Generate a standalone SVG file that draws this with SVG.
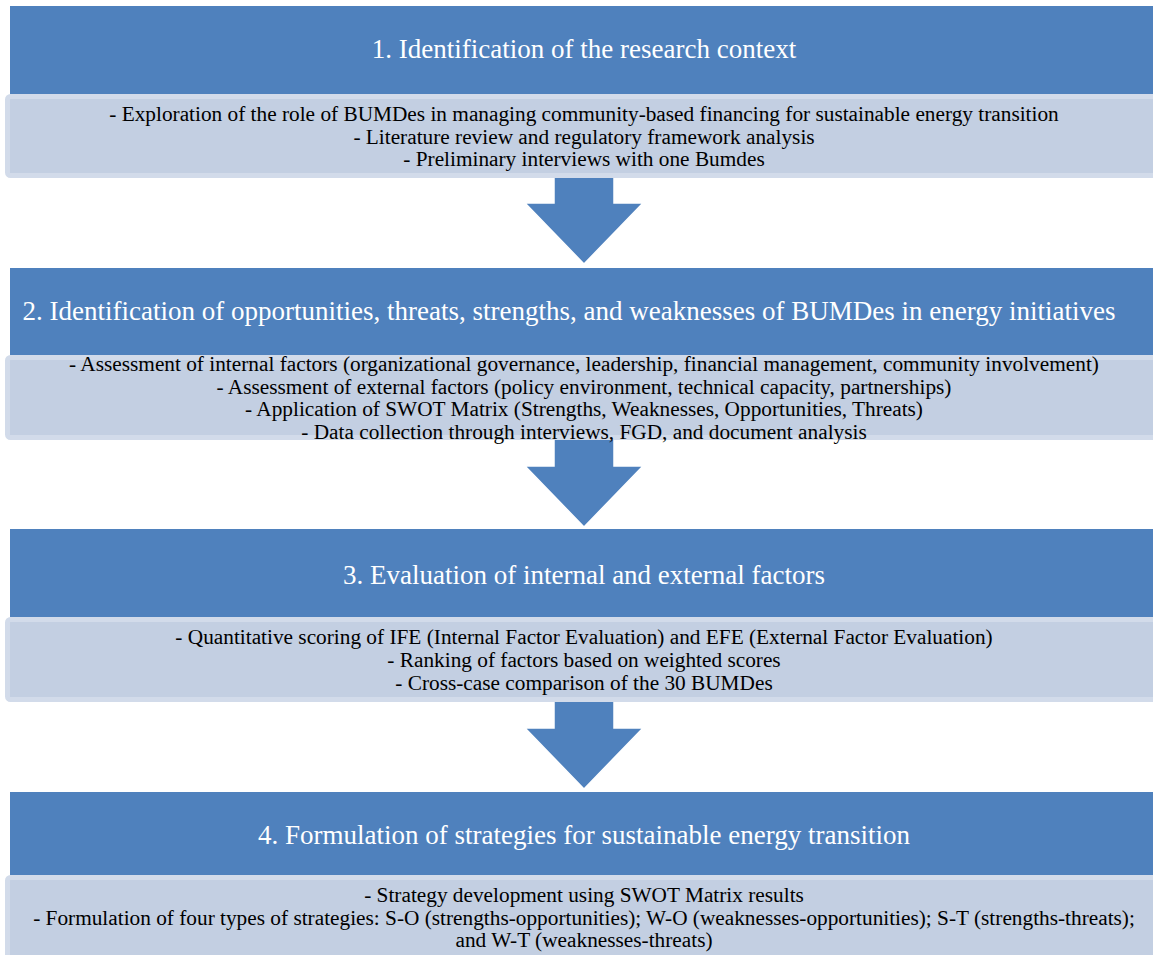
<svg xmlns="http://www.w3.org/2000/svg" width="1153" height="955" viewBox="0 0 1153 955">
<style>
.hdr{fill:#4f81bd}
.body{fill:#c3cfe2;stroke:#d2dbea;stroke-width:5}
.arr{fill:#4f81bd;stroke:#ffffff;stroke-width:1.5;stroke-linejoin:miter}
.ht{font-family:"Liberation Serif","Times New Roman",serif;font-size:27px;fill:#ffffff;text-anchor:middle}
.bt{font-family:"Liberation Serif","Times New Roman",serif;font-size:21.3px;fill:#000000;text-anchor:middle}
</style>
<rect width="1153" height="955" fill="#ffffff"/>
<g id="connectors">
<path class="arr" d="M554,176 L614,176 L614,203 L643,203 L584,264 L525,203 L554,203 Z"/>
<path class="arr" d="M554,438 L614,438 L614,466 L643,466 L584,527 L525,466 L554,466 Z"/>
<path class="arr" d="M554,700 L614,700 L614,728 L643,728 L584,789 L525,728 L554,728 Z"/>
</g>
<g id="step1">
<rect class="hdr" x="10" y="6" width="1143" height="88"/>
<text class="ht" x="584" y="58">1. Identification of the research context</text>
<rect class="body" x="7.5" y="96.5" width="1150" height="79" rx="3"/>
<text class="bt" x="584" y="121">- Exploration of the role of BUMDes in managing community-based financing for sustainable energy transition</text>
<text class="bt" x="584" y="143.5">- Literature review and regulatory framework analysis</text>
<text class="bt" x="584" y="166">- Preliminary interviews with one Bumdes</text>
</g>
<g id="step2">
<rect class="hdr" x="10" y="268" width="1143" height="88"/>
<text class="ht" x="569" y="320">2. Identification of opportunities, threats, strengths, and weaknesses of BUMDes in energy initiatives</text>
<rect class="body" x="7.5" y="357.5" width="1150" height="80" rx="3"/>
<text class="bt" x="584" y="371">- Assessment of internal factors (organizational governance, leadership, financial management, community involvement)</text>
<text class="bt" x="584" y="393.5">- Assessment of external factors (policy environment, technical capacity, partnerships)</text>
<text class="bt" x="584" y="416">- Application of SWOT Matrix (Strengths, Weaknesses, Opportunities, Threats)</text>
<text class="bt" x="584" y="438.5">- Data collection through interviews, FGD, and document analysis</text>
</g>
<g id="step3">
<rect class="hdr" x="10" y="529" width="1143" height="88"/>
<text class="ht" x="584" y="584">3. Evaluation of internal and external factors</text>
<rect class="body" x="7.5" y="619.5" width="1150" height="80" rx="3"/>
<text class="bt" x="584" y="644">- Quantitative scoring of IFE (Internal Factor Evaluation) and EFE (External Factor Evaluation)</text>
<text class="bt" x="584" y="667">- Ranking of factors based on weighted scores</text>
<text class="bt" x="584" y="690">- Cross-case comparison of the 30 BUMDes</text>
</g>
<g id="step4">
<rect class="hdr" x="10" y="792" width="1143" height="84"/>
<text class="ht" x="584" y="844">4. Formulation of strategies for sustainable energy transition</text>
<rect class="body" x="7.5" y="877.5" width="1150" height="85" rx="3"/>
<text class="bt" x="584" y="902">- Strategy development using SWOT Matrix results</text>
<text class="bt" x="584" y="925">- Formulation of four types of strategies: S-O (strengths-opportunities); W-O (weaknesses-opportunities); S-T (strengths-threats);</text>
<text class="bt" x="584" y="947">and W-T (weaknesses-threats)</text>
</g>
</svg>
